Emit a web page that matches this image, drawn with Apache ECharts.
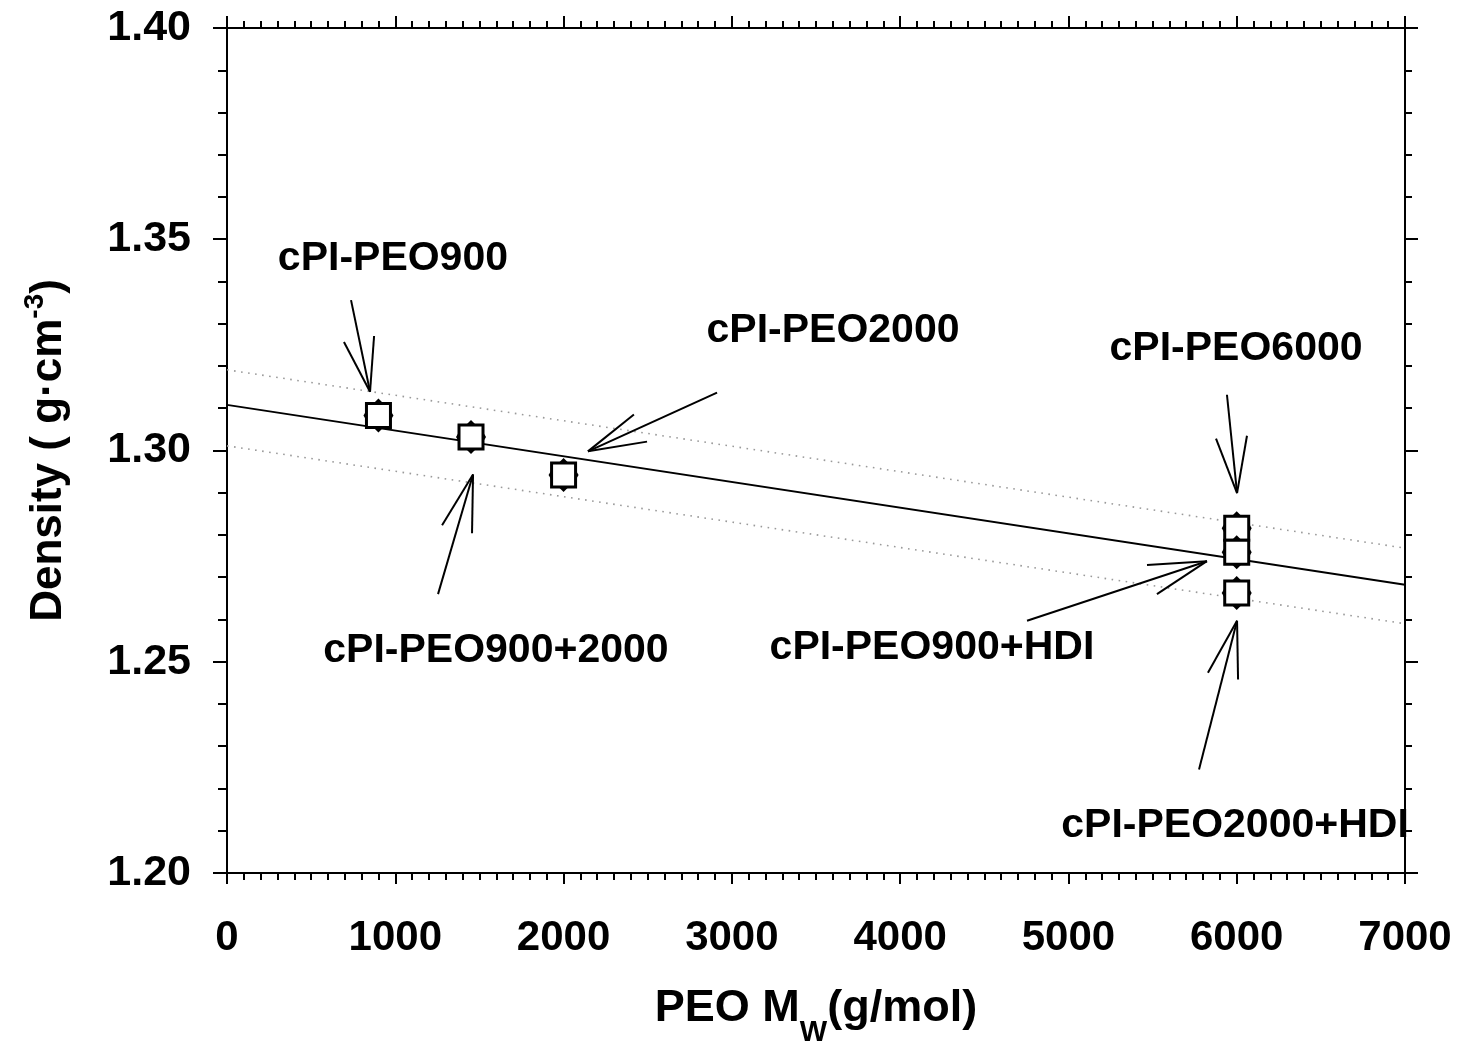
<!DOCTYPE html>
<html>
<head>
<meta charset="utf-8">
<script src="https://cdn.jsdelivr.net/npm/echarts@6/dist/echarts.min.js"></script>
<style>
html,body{margin:0;padding:0;background:#fff;}
#chart{width:1461px;height:1052px;}
</style>
</head>
<body>
<div id="chart"></div>
<script>
// ---- data ----
const mwValues = [900, 1450, 2000, 6000, 6000, 6000];
const densityValues = [1.3083, 1.3032, 1.2942, 1.2816, 1.2759, 1.2663];

const fitX = [0, 7000];
const fitY = [1.3108, 1.2682];
const upperBandY = [1.3191, 1.2769];
const lowerBandY = [1.3011, 1.2590];

const xTicks = [0, 1000, 2000, 3000, 4000, 5000, 6000, 7000];
const yTicks = [1.20, 1.25, 1.30, 1.35, 1.40];

const labelTexts = ['cPI-PEO900', 'cPI-PEO2000', 'cPI-PEO900+2000', 'cPI-PEO6000', 'cPI-PEO900+HDI', 'cPI-PEO2000+HDI'];
const labelX = [986, 3601, 1598, 5996, 4189, 5990];
const labelY = [1.3453, 1.3283, 1.2526, 1.3241, 1.2533, 1.2111];

// arrows: tail, tip, two arm ends (data coordinates)
const arrowTail = [[737, 1.3356], [2912, 1.3137], [1254, 1.2660], [5942, 1.3132], [4754, 1.2597], [5776, 1.2245]];
const arrowTip  = [[850, 1.3139], [2145, 1.2998], [1462, 1.2943], [6002, 1.2899], [5823, 1.2738], [6002, 1.2597]];
const arrowArm1 = [[695, 1.3257], [2418, 1.3085], [1278, 1.2823], [5877, 1.3028], [5467, 1.2729], [5829, 1.2474]];
const arrowArm2 = [[874, 1.3271], [2496, 1.3021], [1456, 1.2804], [6061, 1.3035], [5526, 1.2660], [6008, 1.2458]];

// ---- build ----
const FONT = '"Liberation Sans", Arial, Helvetica, sans-serif';
const pointData = mwValues.map((x, i) => [x, densityValues[i]]);
const arrowData = arrowTail.map((t, i) => [t[0], t[1], arrowTip[i][0], arrowTip[i][1], arrowArm1[i][0], arrowArm1[i][1], arrowArm2[i][0], arrowArm2[i][1]]);
const labelData = labelTexts.map((t, i) => [labelX[i], labelY[i], t]);

const xMin = xTicks[0], xMax = xTicks[xTicks.length - 1];
const yMin = yTicks[0], yMax = yTicks[yTicks.length - 1];

function axisX(pos, showLabel) {
  return {
    type: 'value', position: pos, min: xMin, max: xMax, interval: 1000,
    axisLine: { show: true, onZero: false, lineStyle: { color: '#000', width: 2 } },
    axisTick: { show: true, inside: false, length: pos === 'bottom' ? 11 : 12, lineStyle: { color: '#000', width: 2 } },
    minorTick: { show: true, splitNumber: 10, length: 7, lineStyle: { color: '#000', width: 2 } },
    splitLine: { show: false },
    axisLabel: { show: showLabel, margin: 44, fontSize: 42, fontWeight: 'bold', color: '#000', fontFamily: FONT,
      formatter: v => String(v) },
    name: showLabel ? '{a|PEO M}{s|W}{a|(g/mol)}' : '',
    nameLocation: 'middle', nameGap: 108,
    nameTextStyle: {
      rich: {
        a: { fontSize: 45, fontWeight: 'bold', color: '#000', fontFamily: FONT, verticalAlign: 'bottom', lineHeight: 50 },
        s: { fontSize: 29, fontWeight: 'bold', color: '#000', fontFamily: FONT, verticalAlign: 'bottom', lineHeight: 50, padding: [0, 0, -16, 0] }
      }
    }
  };
}
function axisY(pos, showLabel) {
  return {
    type: 'value', position: pos, min: yMin, max: yMax, interval: 0.05,
    axisLine: { show: true, onZero: false, lineStyle: { color: '#000', width: 2 } },
    axisTick: { show: true, inside: false, length: pos === 'left' ? 14 : 13, lineStyle: { color: '#000', width: 2 } },
    minorTick: { show: true, splitNumber: 5, length: pos === 'left' ? 9 : 7, lineStyle: { color: '#000', width: 2 } },
    splitLine: { show: false },
    axisLabel: { show: showLabel, margin: 36, fontSize: 43, fontWeight: 'bold', color: '#000', fontFamily: FONT,
      formatter: v => v.toFixed(2) },
    name: showLabel ? '{a|Density ( g·cm}{p|-3}{a|)}' : '',
    nameLocation: 'middle', nameRotate: 90, nameGap: 156,
    nameTextStyle: {
      rich: {
        a: { fontSize: 44, fontWeight: 'bold', color: '#000', fontFamily: FONT, verticalAlign: 'bottom', lineHeight: 50 },
        p: { fontSize: 28, fontWeight: 'bold', color: '#000', fontFamily: FONT, verticalAlign: 'top', lineHeight: 50, padding: [0, 0, 22, 0] }
      }
    }
  };
}

const chart = echarts.init(document.getElementById('chart'), null, { renderer: 'canvas' });
chart.setOption({
  backgroundColor: '#fff',
  animation: false,
  grid: { left: 227, right: 56, top: 28, bottom: 176, containLabel: false },
  xAxis: [axisX('bottom', true), axisX('top', false)],
  yAxis: [axisY('left', true), axisY('right', false)],
  series: [
    {
      type: 'line', data: fitX.map((x, i) => [x, upperBandY[i]]), symbol: 'none',
      lineStyle: { color: '#9a9a9a', width: 1.6, type: [1.6, 5.5] }, z: 2
    },
    {
      type: 'line', data: fitX.map((x, i) => [x, lowerBandY[i]]), symbol: 'none',
      lineStyle: { color: '#9a9a9a', width: 1.6, type: [1.6, 5.5] }, z: 2
    },
    {
      type: 'line', data: fitX.map((x, i) => [x, fitY[i]]), symbol: 'none',
      lineStyle: { color: '#000', width: 2 }, z: 3
    },
    {
      type: 'custom', data: pointData, z: 5,
      encode: { x: 0, y: 1 },
      renderItem: function (params, api) {
        const c = api.coord([api.value(0), api.value(1)]);
        const h = 12;
        return {
          type: 'group',
          children: [
            { type: 'rect', shape: { x: c[0] - h, y: c[1] - h, width: 2 * h, height: 2 * h }, style: { fill: '#fff', stroke: '#000', lineWidth: 3 } },
            { type: 'polygon', shape: { points: [[c[0] - 5, c[1] - h], [c[0] + 5, c[1] - h], [c[0], c[1] - h - 5]] }, style: { fill: '#000' } },
            { type: 'polygon', shape: { points: [[c[0] - 5, c[1] + h], [c[0] + 5, c[1] + h], [c[0], c[1] + h + 5]] }, style: { fill: '#000' } },
            { type: 'polygon', shape: { points: [[c[0] - h, c[1] - 5], [c[0] - h, c[1] + 5], [c[0] - h - 3, c[1]]] }, style: { fill: '#000' } },
            { type: 'polygon', shape: { points: [[c[0] + h, c[1] - 5], [c[0] + h, c[1] + 5], [c[0] + h + 3, c[1]]] }, style: { fill: '#000' } }
          ]
        };
      }
    },
    {
      type: 'custom', data: arrowData, z: 4, clip: false,
      encode: { x: [0, 2, 4, 6], y: [1, 3, 5, 7] },
      renderItem: function (params, api) {
        const tail = api.coord([api.value(0), api.value(1)]);
        const tip = api.coord([api.value(2), api.value(3)]);
        const a1 = api.coord([api.value(4), api.value(5)]);
        const a2 = api.coord([api.value(6), api.value(7)]);
        const st = { stroke: '#000', lineWidth: 2, fill: null };
        return {
          type: 'group',
          children: [
            { type: 'line', shape: { x1: tail[0], y1: tail[1], x2: tip[0], y2: tip[1] }, style: st },
            { type: 'line', shape: { x1: a1[0], y1: a1[1], x2: tip[0], y2: tip[1] }, style: st },
            { type: 'line', shape: { x1: a2[0], y1: a2[1], x2: tip[0], y2: tip[1] }, style: st }
          ]
        };
      }
    },
    {
      type: 'custom', data: labelData, z: 6, clip: false,
      encode: { x: 0, y: 1 },
      renderItem: function (params, api) {
        const c = api.coord([api.value(0), api.value(1)]);
        return {
          type: 'text',
          style: {
            x: c[0], y: c[1], text: labelData[params.dataIndex][2],
            align: 'center', verticalAlign: 'middle',
            fontSize: 41, fontWeight: 'bold', fontFamily: FONT, fill: '#000'
          }
        };
      }
    }
  ]
});
</script>
</body>
</html>
